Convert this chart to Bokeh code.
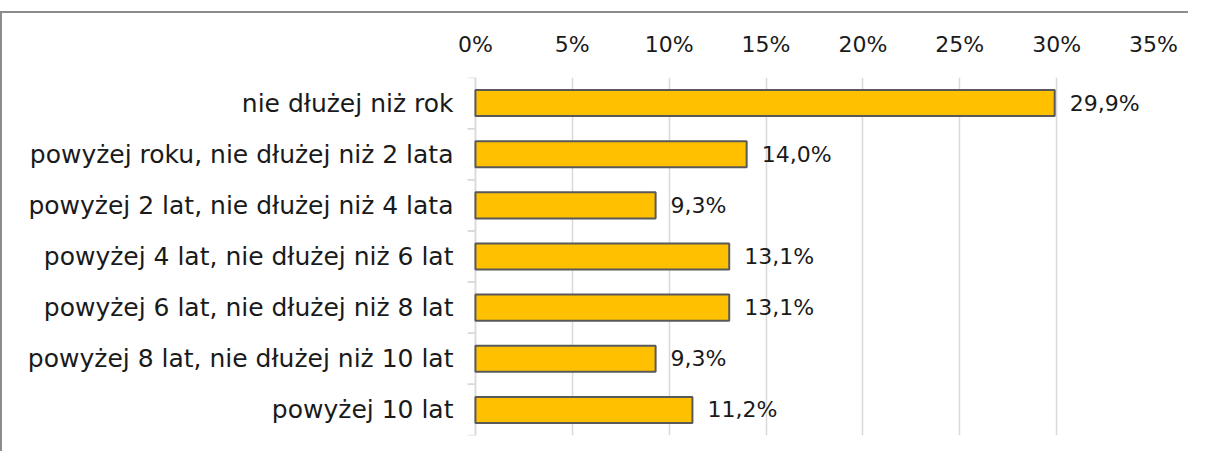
from bokeh.plotting import figure
from bokeh.models import FactorRange, Range1d, ColumnDataSource, FixedTicker, CustomJSTickFormatter
from bokeh.transform import dodge
from bokeh.core.properties import value
from bokeh.embed import file_html
from bokeh.resources import INLINE

categories = [
    "nie dłużej niż rok",
    "powyżej roku, nie dłużej niż 2 lata",
    "powyżej 2 lat, nie dłużej niż 4 lata",
    "powyżej 4 lat, nie dłużej niż 6 lat",
    "powyżej 6 lat, nie dłużej niż 8 lat",
    "powyżej 8 lat, nie dłużej niż 10 lat",
    "powyżej 10 lat",
]
values = [29.9, 14.0, 9.3, 13.1, 13.1, 9.3, 11.2]
labels = ["29,9%", "14,0%", "9,3%", "13,1%", "13,1%", "9,3%", "11,2%"]
x_ticks = [0, 5, 10, 15, 20, 25, 30, 35]

FONT = "DejaVu Sans"
TXT = "#1a1a1a"

W, H = 1188, 440
src = ColumnDataSource(dict(cat=categories, val=values, lab=labels))

p = figure(
    width=W, height=H,
    y_range=FactorRange(factors=list(reversed(categories)), range_padding=0),
    x_range=Range1d(-0.41, 35),
    x_axis_location="above",
    output_backend="svg", toolbar_location=None,
    min_border_left=465, min_border_right=W - 1151,
    min_border_top=64, min_border_bottom=H - 422,
)
p.styles = {"margin-top": "11px",
            "border-left": "2px solid #8c8c8c", "border-top": "2px solid #8c8c8c"}
p.outline_line_color = None
p.background_fill_color = "white"

# grid
p.ygrid.grid_line_color = None
p.xgrid.grid_line_color = "#d9d9d9"
p.xgrid.grid_line_width = 1.5
p.xgrid.ticker = FixedTicker(ticks=x_ticks)

# top x axis
xa = p.xaxis[0]
xa.ticker = FixedTicker(ticks=x_ticks)
xa.formatter = CustomJSTickFormatter(code="return tick + '%';")
xa.axis_line_color = None
xa.major_tick_line_color = None
xa.minor_tick_line_color = None
xa.major_tick_out = 0
xa.major_label_standoff = 21
xa.major_label_text_font = FONT
xa.major_label_text_font_size = "22px"
xa.major_label_text_color = TXT

# left y axis
ya = p.yaxis[0]
ya.axis_line_color = None
ya.major_tick_line_color = None
ya.minor_tick_line_color = None
ya.major_tick_out = 0
ya.major_label_standoff = 14
ya.major_label_text_font = FONT
ya.major_label_text_font_size = "25px"
ya.major_label_text_color = TXT

# category axis line and boundary ticks
p.segment(x0=0, x1=0, y0=dodge("cat", -0.5, range=p.y_range), y1=dodge("cat", 0.5, range=p.y_range),
          source=src, line_color="#d9d9d9", line_width=1.5)
p.segment(x0=-0.41, x1=0, y0=dodge("cat", 0.5, range=p.y_range), y1=dodge("cat", 0.5, range=p.y_range),
          source=src, line_color="#d9d9d9", line_width=1.5)
p.segment(x0=-0.41, x1=0, y0=dodge("cat", -0.5, range=p.y_range), y1=dodge("cat", -0.5, range=p.y_range),
          source=src, line_color="#d9d9d9", line_width=1.5)

# bars
p.hbar(y="cat", left=0, right="val", height=0.51, source=src,
       fill_color="#FFC000", line_color="#595959", line_width=2)

# value labels
p.text(x="val", y="cat", text="lab", source=src, x_offset=15,
       text_font=value(FONT), text_font_size="22px", text_color=TXT,
       text_baseline="middle", text_align="left")

open("out.html", "w").write(file_html(p, INLINE))
